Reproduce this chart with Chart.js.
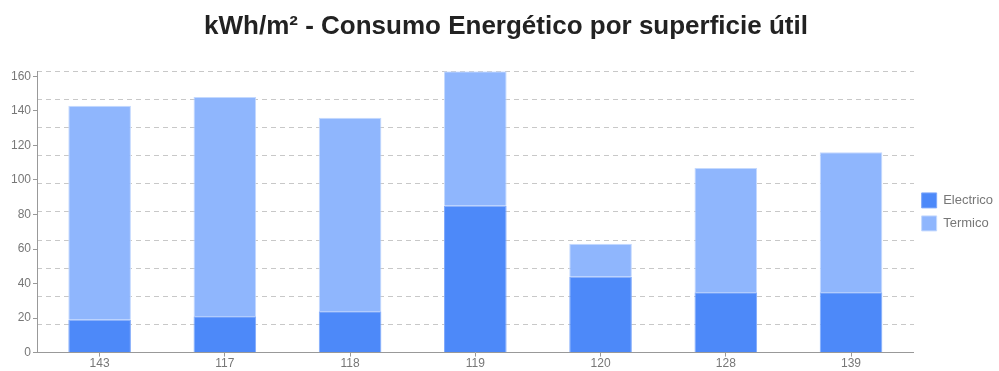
<!DOCTYPE html>
<html lang="es">
<head>
    <meta charset="UTF-8">
    <title>Consumo Energético por superficie útil</title>
    <style>
        body {
            margin: 0;
            background-color: #ffffff;
            font-family: "Liberation Sans", Arial, sans-serif;
        }
        .chart-container {
            width: 999px;
            height: 371px;
        }
    </style>
</head>
<body>
    <div class="chart-container">
        <canvas id="consumoChart"></canvas>
    </div>

    <script src="https://cdn.jsdelivr.net/npm/chart.js"></script>
    <script>
        // building codes on the x axis
        const categories = ['143', '117', '118', '119', '120', '128', '139'];
        // kWh/m2 per source
        const electrico = [19, 21, 24, 85, 44, 35, 35];
        const termico = [124, 127, 112, 78, 19, 72, 81];
        const yTickValues = [0, 20, 40, 60, 80, 100, 120, 140, 160];
        const gridDivisions = 10;

        const colors = {
            electrico: '#4d89f9',
            electricoEdge: '#7fa9fb',
            termico: '#8fb6fd',
            termicoEdge: '#c4d9fe',
            axis: '#999999',
            grid: '#c8c8c8',
            text: '#777777'
        };

        const totals = categories.map((c, i) => electrico[i] + termico[i]);
        const yMax = Math.max(...totals);

        const config = {
            type: 'bar',
            data: {
                labels: categories,
                datasets: [{
                    label: 'Electrico',
                    data: electrico,
                    backgroundColor: colors.electrico,
                    borderColor: colors.electricoEdge,
                    borderWidth: 1
                }, {
                    label: 'Termico',
                    data: termico,
                    backgroundColor: colors.termico,
                    borderColor: colors.termicoEdge,
                    borderWidth: 1
                }]
            },
            options: {
                responsive: true,
                maintainAspectRatio: false,
                animation: false,
                categoryPercentage: 1,
                barPercentage: 0.5,
                layout: {
                    padding: { left: 9, right: -4, top: 0, bottom: 0 }
                },
                scales: {
                    x: {
                        stacked: true,
                        grid: {
                            offset: false,
                            drawOnChartArea: false,
                            tickLength: 4,
                            color: colors.axis
                        },
                        border: { color: colors.axis },
                        ticks: {
                            color: colors.text,
                            font: { size: 12 },
                            padding: 0
                        }
                    },
                    y: {
                        stacked: true,
                        min: 0,
                        max: yMax,
                        afterBuildTicks: (scale) => {
                            scale.ticks = yTickValues.map(v => ({ value: v }));
                        },
                        afterFit: (scale) => { scale.width = 28; },
                        grid: {
                            drawOnChartArea: false,
                            tickLength: 4,
                            color: colors.axis
                        },
                        border: { color: colors.axis },
                        ticks: {
                            color: colors.text,
                            font: { size: 12 },
                            padding: 2
                        }
                    },
                    // evenly spaced dashed lines across the plot
                    grid10: {
                        position: 'right',
                        min: 0,
                        max: gridDivisions,
                        afterFit: (scale) => { scale.width = 0; },
                        ticks: { display: false, stepSize: 1 },
                        border: { display: false, dash: [5, 4] },
                        grid: {
                            drawTicks: false,
                            tickLength: 0,
                            color: (ctx) => ctx.index === 0 ? 'rgba(0,0,0,0)' : colors.grid
                        }
                    }
                },
                plugins: {
                    title: {
                        display: true,
                        text: 'kWh/m² - Consumo Energético por superficie útil',
                        color: '#222222',
                        font: { size: 26, weight: 'bold' },
                        padding: { top: 11, bottom: 29 }
                    },
                    legend: {
                        position: 'right',
                        fullSize: false,
                        labels: {
                            boxWidth: 15,
                            boxHeight: 15,
                            color: colors.text,
                            font: { size: 13 },
                            padding: 8
                        }
                    },
                    tooltip: { enabled: false }
                }
            }
        };

        const ctx = document.getElementById('consumoChart').getContext('2d');
        const consumoChart = new Chart(ctx, config);
    </script>
</body>
</html>
